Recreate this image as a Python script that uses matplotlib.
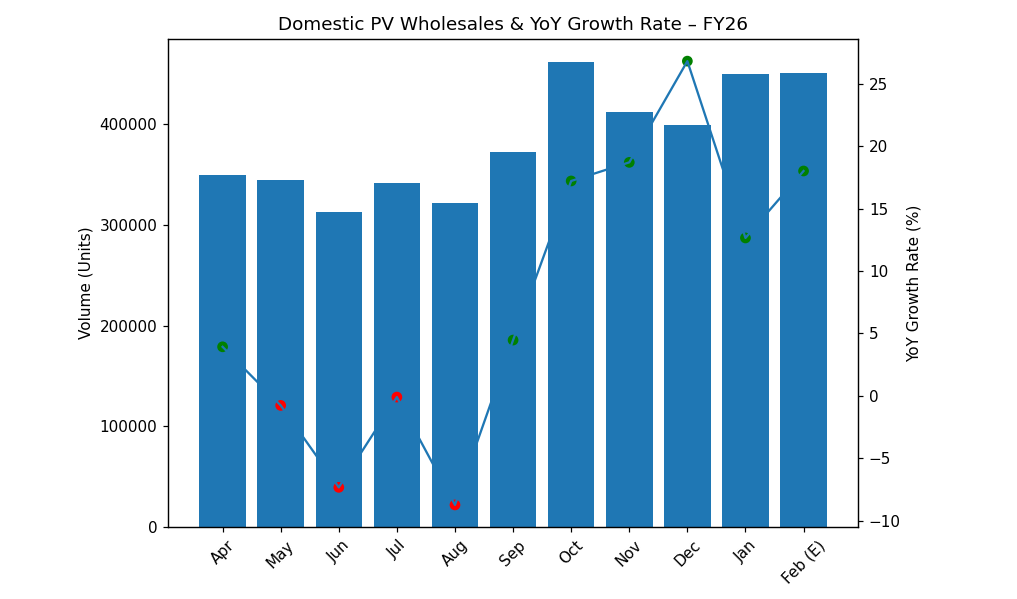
import numpy as np
import matplotlib
matplotlib.use("Agg")
import matplotlib.pyplot as plt

# monthly domestic PV wholesales, FY26
months = ["Apr", "May", "Jun", "Jul", "Aug", "Sep", "Oct", "Nov", "Dec", "Jan", "Feb (E)"]
volume = [349400, 344400, 312700, 341400, 321600, 372200, 461500, 411900, 399000, 449600, 450600]
yoy = [3.93, -0.77, -7.34, -0.10, -8.75, 4.47, 17.23, 18.72, 26.84, 12.66, 18.03]

dpi = 110
fig = plt.figure(figsize=(1018 / dpi, 599 / dpi), dpi=dpi)
ax1 = fig.add_subplot(1, 1, 1)
fig.subplots_adjust(left=0.165, right=0.843, top=0.935, bottom=0.12)

x = np.arange(len(months))
ax1.bar(x, volume)
ax1.set_ylabel("Volume (Units)")
ax1.set_xticks(x)
ax1.set_xticklabels(months, rotation=45)

ax2 = ax1.twinx()
colors = ["green" if v >= 0 else "red" for v in yoy]
ax2.scatter(x, yoy, c=colors)
ax2.plot(x, yoy)
ax2.set_ylabel("YoY Growth Rate (%)")

plt.title("Domestic PV Wholesales & YoY Growth Rate \u2013 FY26")
plt.savefig("out.png", dpi=dpi)
